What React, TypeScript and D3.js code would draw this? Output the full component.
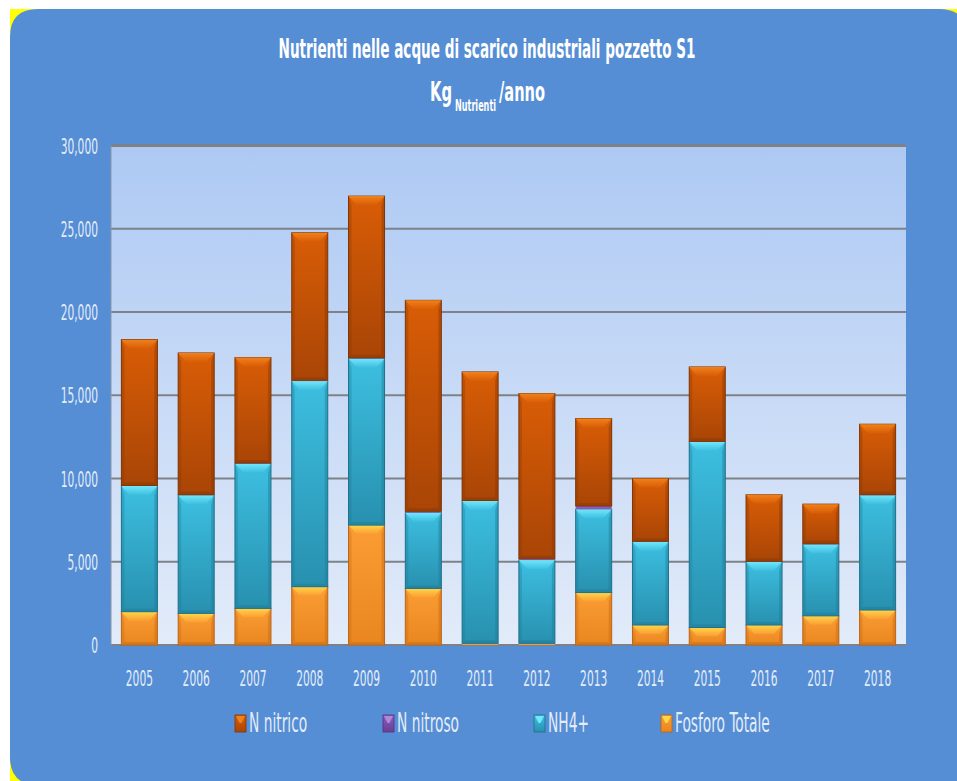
import React, { useLayoutEffect, useRef, useState } from "react";
import * as d3 from "d3";

// Annual nutrient loads (kg/anno), pozzetto S1
const years = ["2005", "2006", "2007", "2008", "2009", "2010", "2011", "2012", "2013", "2014", "2015", "2016", "2017", "2018"];
const fosforoTotale = [2000, 1900, 2200, 3500, 7200, 3400, 100, 100, 3150, 1200, 1050, 1200, 1750, 2100];
const nh4 = [7550, 7100, 8700, 12350, 10000, 4550, 8550, 5000, 5000, 5000, 11150, 3800, 4300, 6900];
const nNitroso = [30, 30, 30, 50, 50, 80, 30, 80, 200, 30, 30, 30, 30, 30];
const nNitrico = [8760, 8510, 6330, 8860, 9710, 12670, 7720, 9920, 5250, 3770, 4470, 3990, 2380, 4230];
const yTicks = [0, 5000, 10000, 15000, 20000, 25000, 30000];
const legendItems = ["N nitrico", "N nitroso", "NH4+", "Fosforo Totale"];

const FONT = "'Liberation Sans Narrow', 'DejaVu Sans Condensed', 'Noto Sans', sans-serif";

type Style = { id: string; top: string; bottom: string; hi: string; edge: string; stroke: string };
const styles: Record<string, Style> = {
  fos: { id: "fos", top: "#fb9d34", bottom: "#e9861f", hi: "#ffd648", edge: "#c96b14", stroke: "#b8641a" },
  nh4: { id: "nh4", top: "#3dbfe0", bottom: "#2890af", hi: "#72e6fb", edge: "#1f7c98", stroke: "#1d6f88" },
  nitroso: { id: "nitroso", top: "#8a5cb8", bottom: "#6a3f96", hi: "#b088d8", edge: "#56307c", stroke: "#56307c" },
  nitrico: { id: "nitrico", top: "#d95d06", bottom: "#a94506", hi: "#f0811c", edge: "#8a3805", stroke: "#7f3405" },
};

const keys = ["fos", "nh4", "nitroso", "nitrico"];
const rows = years.map((y, i) => ({
  year: y,
  fos: fosforoTotale[i],
  nh4: nh4[i],
  nitroso: nNitroso[i],
  nitrico: nNitrico[i],
}));

const plot = { left: 111, right: 906, top: 145.5, bottom: 645 };

function Txt(props: { x: number; y: number; size: number; sx?: number; anchor?: string; fill?: string; weight?: string; children: React.ReactNode }) {
  const { x, y, size, sx = 0.54, anchor = "start", fill = "#e4ecf8", weight = "normal" } = props;
  return (
    <text
      transform={`translate(${x},${y}) scale(${sx},1)`}
      fontFamily={FONT}
      fontSize={size}
      fontWeight={weight}
      textAnchor={anchor}
      fill={fill}
    >
      {props.children}
    </text>
  );
}

// Text squeezed horizontally to a given width (condensed title look)
function FitText(props: { x: number; y: number; size: number; width: number; anchor?: string; weight?: string; children: string }) {
  const ref = useRef<SVGTextElement>(null);
  const [sx, setSx] = useState(0.6);
  useLayoutEffect(() => {
    if (ref.current) {
      const natural = ref.current.getComputedTextLength();
      if (natural > 0) setSx(props.width / natural);
    }
  }, [props.width, props.children]);
  return (
    <text
      ref={ref}
      transform={`translate(${props.x},${props.y}) scale(${sx},1)`}
      fontFamily={FONT}
      fontSize={props.size}
      fontWeight={props.weight ?? "bold"}
      textAnchor={props.anchor ?? "start"}
      fill="#ffffff"
    >
      {props.children}
    </text>
  );
}

function Segment({ x, y, w, h, s }: { x: number; y: number; w: number; h: number; s: Style }) {
  if (h <= 0) return null;
  if (h < 4) {
    return <rect x={x} y={y} width={w} height={h} fill={s.top} />;
  }
  const t = Math.min(9, h / 2);
  const e = Math.min(8, t);
  const side = Math.min(3, h / 4);
  return (
    <g>
      <rect x={x} y={y} width={w} height={h} fill={`url(#body-${s.id})`} stroke={s.stroke} strokeWidth={1} />
      <polygon
        points={`${x},${y} ${x + side},${y + t} ${x + side},${y + h - side} ${x},${y + h}`}
        fill={s.edge}
        opacity={0.35}
      />
      <polygon
        points={`${x + w},${y} ${x + w - side},${y + t} ${x + w - side},${y + h - side} ${x + w},${y + h}`}
        fill={s.edge}
        opacity={0.45}
      />
      <polygon
        points={`${x},${y + h} ${x + w},${y + h} ${x + w - side},${y + h - side} ${x + side},${y + h - side}`}
        fill={s.edge}
        opacity={0.5}
      />
      <polygon
        points={`${x},${y} ${x + w},${y} ${x + w - e},${y + t} ${x + e},${y + t}`}
        fill={`url(#hi-${s.id})`}
      />
    </g>
  );
}

function LegendMarker({ x, y, s }: { x: number; y: number; s: Style }) {
  const w = 11;
  const h = 17;
  return (
    <g>
      <rect x={x} y={y} width={w} height={h} fill={`url(#body-${s.id})`} stroke={s.stroke} strokeWidth={0.8} />
      <polygon points={`${x + 1},${y + 1} ${x + w - 1},${y + 1} ${x + w / 2 + 1},${y + 8} ${x + w / 2 - 1},${y + 8}`} fill={s.hi} />
    </g>
  );
}

export default function App() {
  const xScale = d3
    .scaleBand<string>()
    .domain(years)
    .range([plot.left, plot.right])
    .paddingInner(0.366)
    .paddingOuter(0.183);
  const yScale = d3.scaleLinear().domain([0, 30000]).range([plot.bottom, plot.top]);

  const stack = d3.stack<any>().keys(keys)(rows);
  const bw = xScale.bandwidth();

  const legendPos = [
    { mx: 235, tx: 249, key: "nitrico" },
    { mx: 383, tx: 397, key: "nitroso" },
    { mx: 534, tx: 548, key: "nh4" },
    { mx: 661, tx: 675, key: "fos" },
  ];

  return (
    <svg
      width={957}
      height={781}
      style={{ position: "absolute", left: 0, top: 0, background: "#ffffff" }}
    >
      <defs>
        {Object.values(styles).map((s) => (
          <React.Fragment key={s.id}>
            <linearGradient id={`body-${s.id}`} x1="0" y1="0" x2="0" y2="1">
              <stop offset="0" stopColor={s.top} />
              <stop offset="1" stopColor={s.bottom} />
            </linearGradient>
            <linearGradient id={`hi-${s.id}`} x1="0" y1="0" x2="0" y2="1">
              <stop offset="0" stopColor={s.hi} />
              <stop offset="1" stopColor={s.top} />
            </linearGradient>
          </React.Fragment>
        ))}
        <linearGradient id="plotBg" x1="0" y1="0" x2="0" y2="1">
          <stop offset="0" stopColor="#adc9f3" />
          <stop offset="1" stopColor="#e2ebf9" />
        </linearGradient>
      </defs>

      {/* frame: yellow backing with the rounded blue panel over it */}
      <rect x={10} y={9} width={947} height={772} fill="#ffff00" />
      <path
        d="M38,9 H939 Q967,9 967,37 V840 H38 V785 Q10,785 10,757 V37 Q10,9 38,9 Z"
        fill="#558ed5"
      />

      {/* title */}
      <FitText x={487} y={58} size={26} width={417} anchor="middle">
        Nutrienti nelle acque di scarico industriali pozzetto S1
      </FitText>
      <FitText x={430} y={101} size={26} width={22}>
        Kg
      </FitText>
      <FitText x={455} y={111} size={15} width={41}>
        Nutrienti
      </FitText>
      <FitText x={499} y={101} size={26} width={46}>
        /anno
      </FitText>

      {/* plot area */}
      <rect x={plot.left} y={plot.top} width={plot.right - plot.left} height={plot.bottom - plot.top} fill="url(#plotBg)" />
      {yTicks.map((t) => (
        <line
          key={t}
          x1={plot.left}
          x2={plot.right}
          y1={yScale(t)}
          y2={yScale(t)}
          stroke="#7d8289"
          strokeWidth={t === 30000 ? 3 : 2}
        />
      ))}
      <line x1={plot.left} x2={plot.left} y1={plot.top} y2={plot.bottom} stroke="#8a96a8" strokeWidth={1} />

      {/* y tick labels */}
      {yTicks.map((t) => (
        <Txt key={t} x={98} y={yScale(t) + 8} size={22} anchor="end">
          {d3.format(",")(t)}
        </Txt>
      ))}

      {/* stacked bars */}
      {stack.map((layer) => (
        <g key={layer.key}>
          {layer.map((d, i) => {
            const y0 = yScale(d[0]);
            const y1 = yScale(d[1]);
            return (
              <Segment
                key={years[i]}
                x={xScale(years[i]) as number}
                y={y1}
                w={bw}
                h={y0 - y1}
                s={styles[layer.key as string]}
              />
            );
          })}
        </g>
      ))}

      {/* x tick labels */}
      {years.map((y) => (
        <Txt key={y} x={(xScale(y) as number) + bw / 2} y={686} size={22} anchor="middle">
          {y}
        </Txt>
      ))}

      {/* legend */}
      {legendPos.map((p, i) => (
        <g key={p.key}>
          <LegendMarker x={p.mx} y={715} s={styles[p.key]} />
          <Txt x={p.tx} y={732} size={26} sx={0.59}>
            {legendItems[i]}
          </Txt>
        </g>
      ))}
    </svg>
  );
}
